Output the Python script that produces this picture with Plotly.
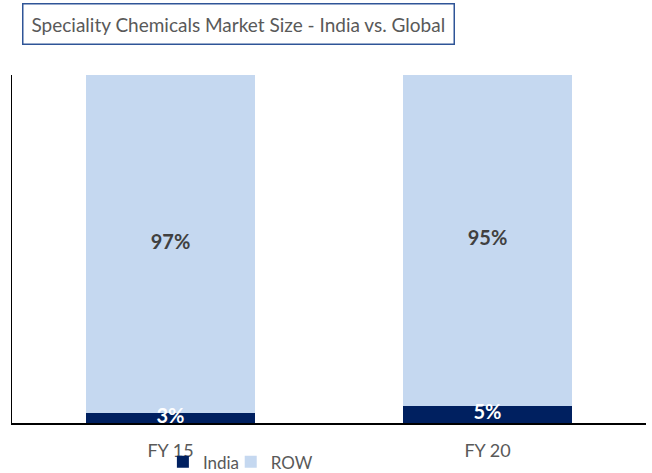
import plotly.graph_objects as go

years = ["FY 15", "FY 20"]
india = [3, 5]
row = [97, 95]
india_labels = ["3%", "5%"]
row_labels = ["97%", "95%"]

FONT = "Lato"
GREY = "#595959"

fig = go.Figure()
fig.add_trace(go.Bar(x=years, y=india, name="India", legend="legend",
                     marker=dict(color="#002060", line=dict(width=0))))
fig.add_trace(go.Bar(x=years, y=row, name="ROW", legend="legend2",
                     marker=dict(color="#C5D8F0", line=dict(width=0))))

# data labels centred in each segment
fig.add_trace(go.Scatter(
    x=years, y=[v / 2 for v in india], text=india_labels, mode="text",
    textfont=dict(family=FONT, size=20, color="white", weight="bold"),
    showlegend=False, hoverinfo="skip", cliponaxis=True,
))
fig.add_trace(go.Scatter(
    x=years, y=[i + r / 2 for i, r in zip(india, row)], text=row_labels, mode="text",
    textfont=dict(family=FONT, size=20, color="#404040", weight="bold"),
    showlegend=False, hoverinfo="skip",
))

leg = dict(orientation="h", xanchor="left", y=-0.113, yanchor="middle",
           font=dict(size=17, color=GREY), bgcolor="rgba(0,0,0,0)", itemwidth=30)

fig.update_layout(
    barmode="stack",
    bargap=0.464,
    width=652,
    height=473,
    margin=dict(l=12, r=6, t=75, b=50, autoexpand=False),
    plot_bgcolor="white",
    paper_bgcolor="white",
    font=dict(family=FONT, color=GREY),
    showlegend=True,
    legend=dict(leg, x=0.238),
    legend2=dict(leg, x=0.345),
    annotations=[dict(
        text="Speciality Chemicals Market Size - India vs. Global",
        xref="paper", yref="paper", x=0.0158, y=1.147, xanchor="left", yanchor="middle",
        showarrow=False, font=dict(family=FONT, size=19, color=GREY),
        bordercolor="#2F5597", borderwidth=1.5, borderpad=8, bgcolor="white",
    )],
)
fig.update_xaxes(
    showline=True, linecolor="black", linewidth=2, ticks="", showgrid=False,
    tickfont=dict(size=18, color=GREY), ticklabelstandoff=10,
)
fig.update_yaxes(
    range=[0, 100], showline=True, linecolor="black", linewidth=1,
    showticklabels=False, ticks="", showgrid=False, zeroline=False,
)

fig.write_html("out.html", config={"displayModeBar": False},
               post_script="document.body.style.margin='0';")
